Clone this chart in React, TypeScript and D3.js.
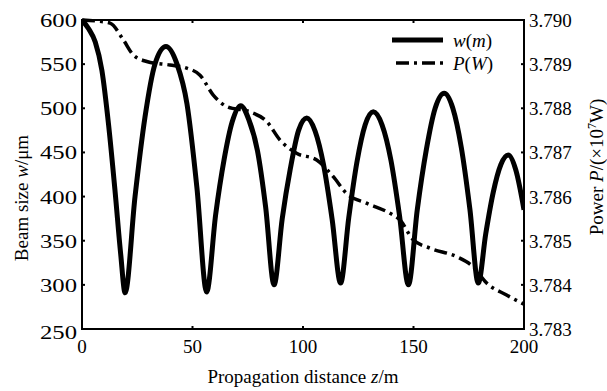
import React from "react";
import * as d3 from "d3";

const zW = [0, 3, 6, 9, 12, 15, 17.5, 19.5, 24, 28.5, 33, 38, 43, 47.5, 52, 56.4, 60.5, 64.3, 68, 71.8, 75.5, 79.4, 83.1, 86.9, 90.6, 94.3, 98, 101.7, 105.5, 109.3, 113.2, 117, 120.7, 124.4, 128.1, 131.8, 135.8, 139.8, 143.7, 147.7, 151.7, 155.8, 159.8, 163.9, 167.8, 171.6, 175.5, 179.3, 182.7, 186.1, 189.5, 192.9, 196.3, 200];
const wVals = [600, 590, 575, 543, 482, 405, 335, 291, 400, 490, 550, 570, 550, 505, 410, 292, 380, 442, 485, 503, 487, 452, 388, 300, 375, 432, 475, 489, 474, 436, 374, 302, 376, 439, 481, 496, 481, 441, 378, 300, 385, 453, 500, 517, 500, 456, 386, 302, 358, 405, 436, 447, 430, 385];

const zP = [0, 6, 12.7, 18.7, 23.2, 29.3, 39.8, 47.4, 53.4, 59.4, 65.5, 76, 83.6, 89.6, 97.1, 106.2, 113.7, 119.7, 128.8, 139.4, 143.9, 149.9, 157.5, 169.5, 177, 183.1, 192.1, 200];
const pVals = [3.79, 3.78998, 3.78993, 3.78955, 3.78921, 3.78906, 3.78898, 3.78891, 3.78875, 3.7883, 3.78804, 3.78792, 3.7877, 3.78728, 3.78698, 3.78683, 3.78645, 3.78607, 3.78585, 3.78562, 3.78547, 3.78502, 3.78483, 3.78464, 3.78441, 3.78404, 3.78377, 3.78356];

const xTicks = [0, 50, 100, 150, 200];
const wTicks = [250, 300, 350, 400, 450, 500, 550, 600];
const pTicks = [3.783, 3.784, 3.785, 3.786, 3.787, 3.788, 3.789, 3.79];

const W = 607, H = 391;
const L = 82, R = 524, T = 20, B = 329;
const font = "'Liberation Serif', 'Times New Roman', Times, 'DejaVu Serif', serif";
const ts: React.CSSProperties = { fontFamily: font, fontSize: 19 };

export default function App() {
  const x = d3.scaleLinear().domain([0, 200]).range([L, R]);
  const yW = d3.scaleLinear().domain([250, 600]).range([B, T]);
  const yP = d3.scaleLinear().domain([3.783, 3.79]).range([B, T]);

  const wLine = d3.line<number>().x((_, i) => x(zW[i])).y((d) => yW(d)).curve(d3.curveMonotoneX);
  const pLine = d3.line<number>().x((_, i) => x(zP[i])).y((d) => yP(d)).curve(d3.curveMonotoneX);

  return (
    <svg width={W} height={H} style={{ position: "absolute", left: 0, top: 0, background: "#fff", fontFamily: font }}>
      <defs>
        <clipPath id="plot">
          <rect x={L} y={T - 3} width={R - L} height={B - T + 3} />
        </clipPath>
      </defs>
      <g clipPath="url(#plot)">
        <path d={pLine(pVals) || ""} fill="none" stroke="#000" strokeWidth={3.5} strokeDasharray="13,5,3,5" />
        <path d={wLine(wVals) || ""} fill="none" stroke="#000" strokeWidth={5} strokeLinejoin="round" />
      </g>
      <rect x={L} y={T} width={R - L} height={B - T} fill="none" stroke="#000" strokeWidth={2} />
      {xTicks.map((t) => (
        <g key={"x" + t}>
          <line x1={x(t)} x2={x(t)} y1={B} y2={B - 3} stroke="#000" strokeWidth={2} />
          <line x1={x(t)} x2={x(t)} y1={T} y2={T + 3} stroke="#000" strokeWidth={2} />
          <text x={x(t)} y={353} style={ts} textAnchor="middle">{t}</text>
        </g>
      ))}
      {wTicks.map((t) => (
        <g key={"w" + t}>
          <line x1={L} x2={L + 3} y1={yW(t)} y2={yW(t)} stroke="#000" strokeWidth={2} />
          <text x={40} y={yW(t) + 7 + (t === 250 ? 3 : 0)} style={ts} textLength={37} lengthAdjust="spacingAndGlyphs">{t}</text>
        </g>
      ))}
      {pTicks.map((t) => (
        <g key={"p" + t}>
          <line x1={R} x2={R - 3} y1={yP(t)} y2={yP(t)} stroke="#000" strokeWidth={2} />
          <text x={529} y={yP(t) + 7} style={ts} textAnchor="start">{t.toFixed(3)}</text>
        </g>
      ))}
      <text x={303} y={383} style={ts} textAnchor="middle">
        Propagation distance <tspan fontStyle="italic">z</tspan>/m
      </text>
      <text transform="translate(28,198) rotate(-90)" style={ts} textAnchor="middle">
        Beam size <tspan fontStyle="italic">w</tspan>/μm
      </text>
      <text transform="translate(603,167) rotate(-90)" style={ts} textAnchor="middle">
        Power <tspan fontStyle="italic">P</tspan>/(×10<tspan dy={-7} fontSize={12}>7</tspan><tspan dy={7}>W)</tspan>
      </text>
      <line x1={392} x2={443} y1={40} y2={40} stroke="#000" strokeWidth={5} />
      <text x={453} y={47} style={ts} fontStyle="italic">
        w<tspan fontStyle="normal">(</tspan>m<tspan fontStyle="normal">)</tspan>
      </text>
      <line x1={396} x2={443} y1={63} y2={63} stroke="#000" strokeWidth={3.5} strokeDasharray="13,5,3,5" />
      <text x={453} y={70} style={ts} fontStyle="italic">
        P<tspan fontStyle="normal">(</tspan>W<tspan fontStyle="normal">)</tspan>
      </text>
    </svg>
  );
}
